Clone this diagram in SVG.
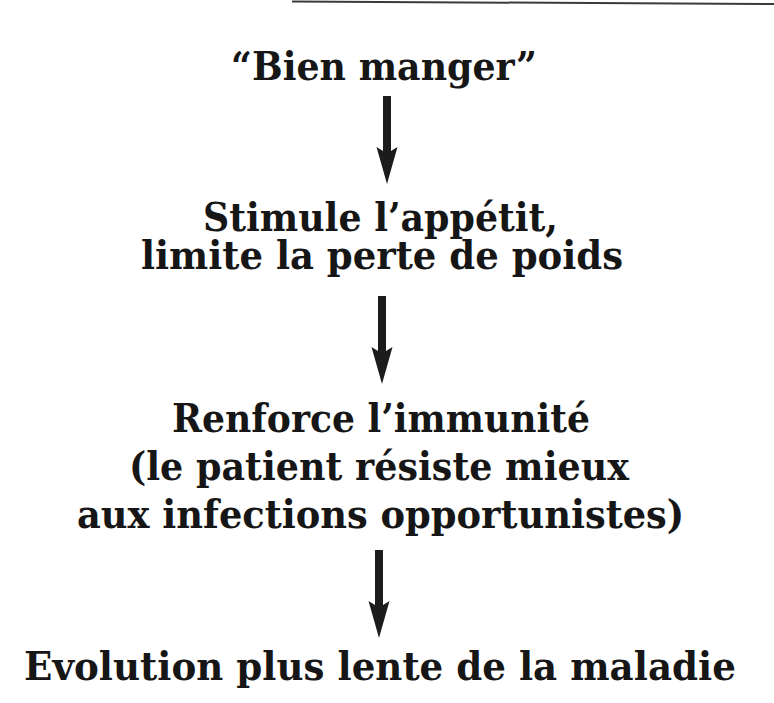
<svg xmlns="http://www.w3.org/2000/svg" xmlns:xlink="http://www.w3.org/1999/xlink" width="774" height="703" viewBox="0 0 774 703">
  <style>
    .t { font-family: "DejaVu Serif", "Liberation Serif", serif; font-weight: bold; font-size: 40px; fill: #161616; text-anchor: start; }
    .arrow { fill: #1c1c1c; }
  </style>
  <defs>
    <path id="arrowShape" d="M -4 0 L 4 0 L 4 55 L 10.5 51 L 0 88 L -10.5 51 L -4 55 Z"/>
  </defs>
  <rect width="774" height="703" fill="#ffffff"/>
  <line x1="292" y1="1.5" x2="774" y2="4" stroke="#3a3a3a" stroke-width="2"/>

  <g id="node-bien-manger">
    <text class="t" x="231" y="80" textLength="306" lengthAdjust="spacingAndGlyphs">“Bien manger”</text>
  </g>
  <g id="node-stimule">
    <text class="t" x="203" y="231" textLength="355" lengthAdjust="spacingAndGlyphs">Stimule l’appétit,</text>
    <text class="t" x="141" y="269" textLength="482" lengthAdjust="spacingAndGlyphs">limite la perte de poids</text>
  </g>
  <g id="node-renforce">
    <text class="t" x="172" y="432" textLength="418" lengthAdjust="spacingAndGlyphs">Renforce l’immunité</text>
    <text class="t" x="129" y="480" textLength="500" lengthAdjust="spacingAndGlyphs">(le patient résiste mieux</text>
    <text class="t" transform="translate(77,528) scale(0.92,1)" x="0" y="0" textLength="660" lengthAdjust="spacingAndGlyphs">aux infections opportunistes)</text>
  </g>
  <g id="node-evolution">
    <text class="t" transform="translate(24,680) scale(0.9,1)" x="0" y="0" textLength="791" lengthAdjust="spacingAndGlyphs">Evolution plus lente de la maladie</text>
  </g>

  <g id="connectors" class="arrow">
    <use xlink:href="#arrowShape" href="#arrowShape" x="387" y="96"/>
    <use xlink:href="#arrowShape" href="#arrowShape" x="382" y="296"/>
    <use xlink:href="#arrowShape" href="#arrowShape" x="379" y="550"/>
  </g>
</svg>
